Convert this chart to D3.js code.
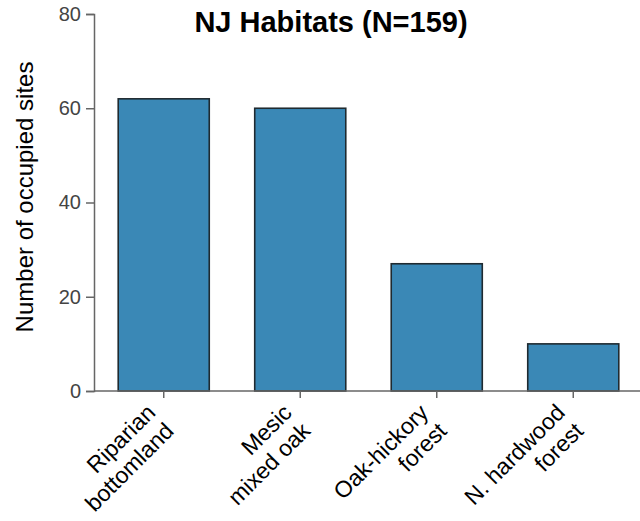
<!DOCTYPE html>
<html>
<head>
<meta charset="utf-8">
<script src="https://cdn.jsdelivr.net/npm/d3@7"></script>
<style>
  html, body { margin: 0; padding: 0; background: #fff; }
  svg { display: block; font-family: "Liberation Sans", Arial, Helvetica, sans-serif; }
</style>
</head>
<body>
<svg id="chart" width="640" height="521"></svg>
<script>
// ---- data ----
const categories = ["Riparian\nbottomland", "Mesic\nmixed oak", "Oak-hickory\nforest", "N. hardwood\nforest"];
const values = [62, 60, 27, 10];
const yTicks = [0, 20, 40, 60, 80];
const title = "NJ Habitats (N=159)";
const yLabel = "Number of occupied sites";

// ---- layout ----
const svg = d3.select("#chart");
const W = 640, H = 521;
const axisX = 94, baseY = 391, topY = 14;

const x = d3.scaleBand()
  .domain(categories)
  .range([95, 642])
  .paddingInner(0.333)
  .paddingOuter(0.17);

const y = d3.scaleLinear().domain([0, 80]).range([baseY, topY]);

// bars
svg.append("g").selectAll("rect")
  .data(values)
  .join("rect")
  .attr("x", (d, i) => x(categories[i]))
  .attr("y", d => y(d))
  .attr("width", x.bandwidth())
  .attr("height", d => y(0) - y(d))
  .attr("fill", "#3a88b6")
  .attr("stroke", "#1f2a30")
  .attr("stroke-width", 1.6);

// y axis
const yAxis = svg.append("g")
  .attr("transform", `translate(${axisX},0)`)
  .call(d3.axisLeft(y).tickValues(yTicks).tickSize(8).tickSizeOuter(8).tickPadding(5));
yAxis.select(".domain").attr("stroke", "#666").attr("stroke-width", 1.5);
yAxis.selectAll(".tick line").attr("stroke", "#666").attr("stroke-width", 1.5);
yAxis.selectAll(".tick text").attr("fill", "#444").attr("font-size", 20).attr("font-family", "Liberation Sans, Arial, sans-serif");

// x axis
const xAxis = svg.append("g")
  .attr("transform", `translate(0,${baseY})`)
  .call(d3.axisBottom(x).tickSize(7).tickSizeOuter(0).tickFormat(""));
xAxis.select(".domain").attr("stroke", "#666").attr("stroke-width", 1.5)
  .attr("d", `M${axisX},0H${W}`);
xAxis.selectAll(".tick line").attr("stroke", "#666").attr("stroke-width", 1.5);

// x labels (rotated, two lines)
const lab = svg.append("g").selectAll("text")
  .data(categories)
  .join("text")
  .attr("transform", d => `translate(${x(d) + x.bandwidth() / 2 - 7},414) rotate(-45)`)
  .attr("text-anchor", "end")
  .attr("font-size", 23)
  .attr("fill", "#000");
lab.each(function(d) {
  const t = d3.select(this);
  d.split("\n").forEach((line, i) => {
    t.append("tspan").attr("x", 0).attr("dy", i === 0 ? 0 : 26).text(line);
  });
});

// title
svg.append("text")
  .attr("x", 331)
  .attr("y", 32)
  .attr("text-anchor", "middle")
  .attr("font-size", 29)
  .attr("font-weight", "bold")
  .attr("fill", "#000")
  .text(title);

// y label
svg.append("text")
  .attr("transform", `translate(33,197) rotate(-90)`)
  .attr("text-anchor", "middle")
  .attr("font-size", 24)
  .attr("fill", "#000")
  .text(yLabel);
</script>
</body>
</html>
